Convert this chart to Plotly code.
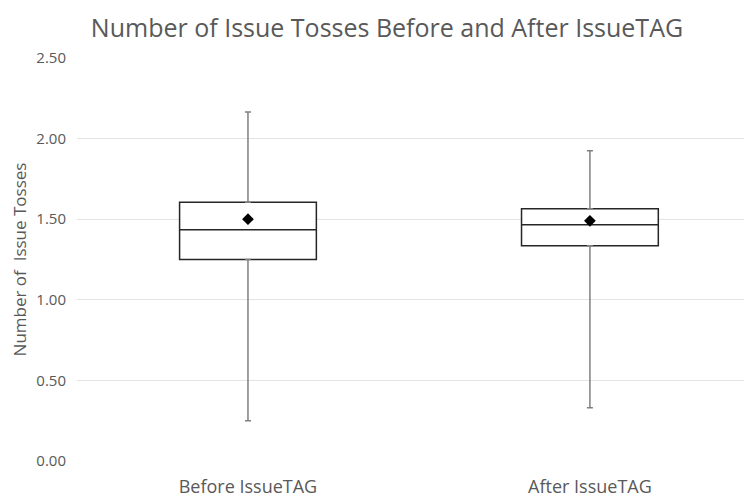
import plotly.graph_objects as go

categories = ["Before IssueTAG", "After IssueTAG"]
q1_vals = [1.25, 1.335]
median_vals = [1.435, 1.465]
q3_vals = [1.605, 1.565]
lower_whisker = [0.25, 0.33]
upper_whisker = [2.165, 1.925]
mean_vals = [1.50, 1.49]
y_ticks = [0.0, 0.5, 1.0, 1.5, 2.0, 2.5]

FONT = "Open Sans"
GRAY = "#595959"

fig = go.Figure()

# Box bodies (whiskers hidden by setting fences at quartiles)
fig.add_trace(go.Box(
    x=categories, q1=q1_vals, median=median_vals, q3=q3_vals,
    lowerfence=q1_vals, upperfence=q3_vals,
    fillcolor="white", line=dict(color="#262626", width=1.5),
    width=0.4, whiskerwidth=0, boxpoints=False, showlegend=False,
    hoverinfo="skip",
))

# Upper whiskers
fig.add_trace(go.Scatter(
    x=categories, y=q3_vals, mode="markers",
    marker=dict(size=1, opacity=0),
    error_y=dict(type="data", symmetric=False,
                 array=[u - q for u, q in zip(upper_whisker, q3_vals)],
                 arrayminus=[0, 0], color="#808080", thickness=1.5, width=3),
    showlegend=False, hoverinfo="skip",
))
# Lower whiskers
fig.add_trace(go.Scatter(
    x=categories, y=q1_vals, mode="markers",
    marker=dict(size=1, opacity=0),
    error_y=dict(type="data", symmetric=False,
                 array=[0, 0],
                 arrayminus=[q - l for q, l in zip(q1_vals, lower_whisker)],
                 color="#808080", thickness=1.5, width=3),
    showlegend=False, hoverinfo="skip",
))
# Means
fig.add_trace(go.Scatter(
    x=categories, y=mean_vals, mode="markers",
    marker=dict(symbol="diamond", size=9, color="black"),
    showlegend=False,
))

fig.update_layout(
    width=744, height=489,
    margin=dict(l=69, r=0, t=50, b=36),
    paper_bgcolor="white", plot_bgcolor="white",
    font=dict(family=FONT, color=GRAY),
    title=dict(text="Number of Issue Tosses Before and After IssueTAG",
               x=379 / 744, xref="container", xanchor="center",
               y=1 - 20 / 489, yref="container", yanchor="middle",
               font=dict(family=FONT, size=25, color=GRAY)),
    xaxis=dict(type="category", range=[-0.5, 1.474], showgrid=False,
               showline=False, ticks="", ticklabelstandoff=13,
               tickfont=dict(size=18, color=GRAY)),
    yaxis=dict(range=[0, 2.5], tickvals=y_ticks, tickformat=".2f",
               showgrid=True, gridcolor="#e3e3e3", gridwidth=1,
               zeroline=False, showline=False, ticks="",
               ticklabelstandoff=10,
               tickfont=dict(size=15, color=GRAY),
               title=dict(text="Number of\u00a0 Issue Tosses",
                          font=dict(size=17, color=GRAY), standoff=10)),
)

fig.write_html("out.html")
